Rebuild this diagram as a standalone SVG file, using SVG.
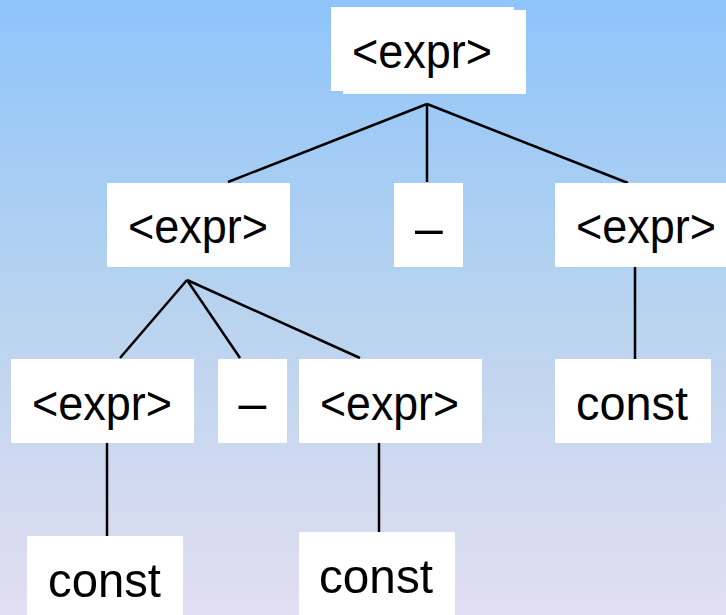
<svg xmlns="http://www.w3.org/2000/svg" width="726" height="615" viewBox="0 0 726 615">
  <defs>
    <linearGradient id="bg" x1="0" y1="0" x2="0" y2="1">
      <stop offset="0" stop-color="#8EC4FA"/>
      <stop offset="0.5" stop-color="#B8D3EF"/>
      <stop offset="1" stop-color="#E2DEF1"/>
    </linearGradient>
  </defs>
  <style>
    .box { fill: #FFFFFF; }
    .lbl { font-family: "Liberation Sans", Arial, sans-serif; font-size: 49px; fill: #000000; }
    .op { font-family: "Liberation Sans", Arial, sans-serif; font-size: 50px; fill: #000000; text-anchor: middle; }
    .edge { stroke: #000000; stroke-width: 2.5; fill: none; }
  </style>
  <rect width="726" height="615" fill="url(#bg)"/>

  <!-- connectors -->
  <g id="connectors">
    <path class="edge" d="M427 104 L228 182 M427 104 L427 182 M427 104 L628 183"/>
    <path class="edge" d="M187 280 L120 358 M187 280 L240 358 M187 280 L360 358"/>
    <path class="edge" d="M635 263 L635 361"/>
    <path class="edge" d="M107 443 L107 537"/>
    <path class="edge" d="M379 443 L379 532"/>
  </g>

  <!-- root -->
  <g id="root">
    <rect class="box" x="331" y="7" width="183" height="84"/>
    <rect class="box" x="343" y="10" width="183" height="84"/>
    <text class="lbl" x="352" y="68" textLength="140" lengthAdjust="spacingAndGlyphs">&lt;expr&gt;</text>
  </g>

  <!-- second level -->
  <g id="expr-left">
    <rect class="box" x="107" y="183" width="183" height="84"/>
    <text class="lbl" x="128" y="243" textLength="140" lengthAdjust="spacingAndGlyphs">&lt;expr&gt;</text>
  </g>
  <g id="minus-top">
    <rect class="box" x="394" y="183" width="69" height="84"/>
    <text class="op" x="429" y="245">–</text>
  </g>
  <g id="expr-right">
    <rect class="box" x="555" y="183" width="171" height="84"/>
    <text class="lbl" x="576" y="243" textLength="140" lengthAdjust="spacingAndGlyphs">&lt;expr&gt;</text>
  </g>

  <!-- third level -->
  <g id="expr-ll">
    <rect class="box" x="11" y="359" width="183" height="84"/>
    <text class="lbl" x="32" y="420" textLength="140" lengthAdjust="spacingAndGlyphs">&lt;expr&gt;</text>
  </g>
  <g id="minus-mid">
    <rect class="box" x="218" y="359" width="69" height="84"/>
    <text class="op" x="252.5" y="420">–</text>
  </g>
  <g id="expr-lr">
    <rect class="box" x="299" y="359" width="183" height="84"/>
    <text class="lbl" x="320" y="420" textLength="139" lengthAdjust="spacingAndGlyphs">&lt;expr&gt;</text>
  </g>
  <g id="const-r">
    <rect class="box" x="555" y="359" width="156" height="84"/>
    <text class="lbl" x="576" y="420" textLength="112" lengthAdjust="spacingAndGlyphs">const</text>
  </g>

  <!-- leaves -->
  <g id="const-ll">
    <rect class="box" x="27" y="536" width="156" height="84"/>
    <text class="lbl" x="48" y="597" textLength="113" lengthAdjust="spacingAndGlyphs">const</text>
  </g>
  <g id="const-lr">
    <rect class="box" x="299" y="532" width="156" height="84"/>
    <text class="lbl" x="319" y="593" textLength="114" lengthAdjust="spacingAndGlyphs">const</text>
  </g>
</svg>
